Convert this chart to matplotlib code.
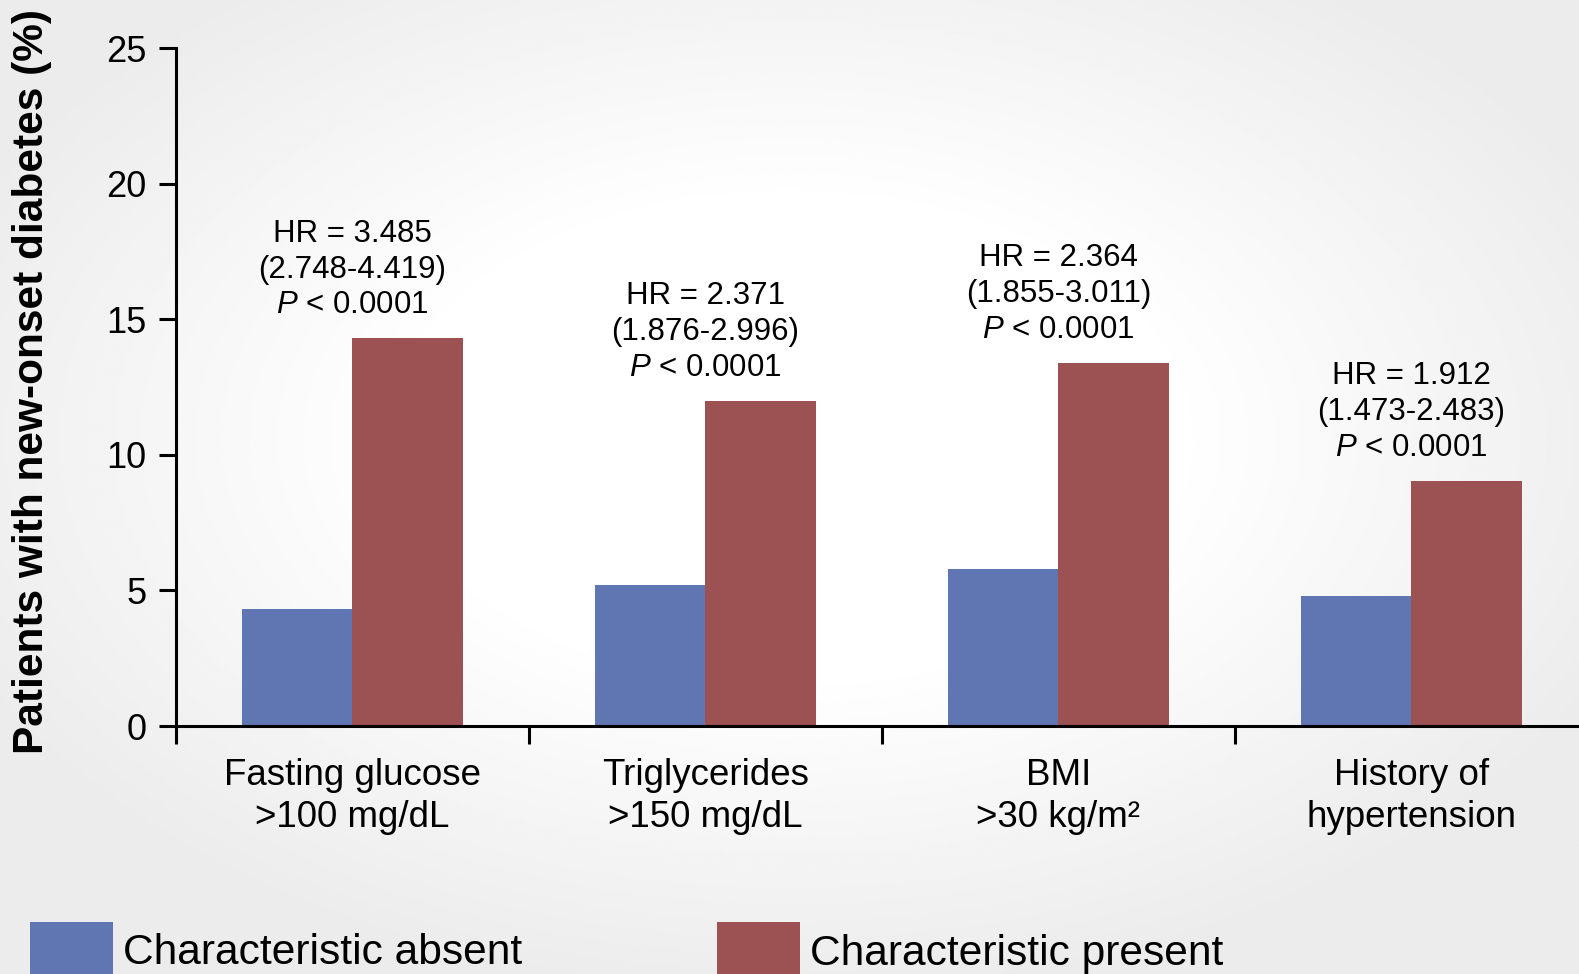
import numpy as np
import matplotlib.pyplot as plt

plt.rcParams['font.family'] = ['Liberation Sans', 'DejaVu Sans']
plt.rcParams['mathtext.fontset'] = 'custom'
plt.rcParams['mathtext.rm'] = 'Liberation Sans'
plt.rcParams['mathtext.it'] = 'Liberation Sans:italic'

categories = ['Fasting glucose\n>100 mg/dL', 'Triglycerides\n>150 mg/dL',
              'BMI\n>30 kg/m²', 'History of\nhypertension']
absent = [4.3, 5.2, 5.8, 4.8]
present = [14.3, 12.0, 13.4, 9.05]
hr = ['3.485', '2.371', '2.364', '1.912']
ci = ['2.748-4.419', '1.876-2.996', '1.855-3.011', '1.473-2.483']
pval = ['< 0.0001', '< 0.0001', '< 0.0001', '< 0.0001']
yticks = [0, 5, 10, 15, 20, 25]

blue = '#6076b3'
red = '#9c5253'

W, H = 1579, 974
fig = plt.figure(figsize=(W / 100, H / 100), dpi=100)

# soft radial grey background
bg = fig.add_axes([0, 0, 1, 1], zorder=-10)
yy, xx = np.mgrid[0:1:400j, 0:1:640j]
d = np.sqrt(((xx - 0.5) / 0.6) ** 2 + ((yy - 0.45) / 0.6) ** 2)
shade = 1 - 0.075 * np.clip((d - 0.4) / 0.55, 0, 1)
bg.imshow(shade, cmap='gray', vmin=0, vmax=1, aspect='auto', extent=[0, 1, 0, 1])
bg.axis('off')

ax = fig.add_axes([176 / W, 1 - 726 / H, 1 - 176 / W, (726 - 48) / H])
ax.patch.set_alpha(0)

x = np.arange(len(categories))
w = 0.314
ax.bar(x - w / 2, absent, w, color=blue, label='Characteristic absent')
ax.bar(x + w / 2, present, w, color=red, label='Characteristic present')

for i in range(len(categories)):
    txt = 'HR = %s\n(%s)\n$\\mathit{P}$ %s' % (hr[i], ci[i], pval[i])
    ax.annotate(txt, xy=(x[i], present[i]), xytext=(0, 13), textcoords='offset points',
                ha='center', va='bottom', fontsize=22.5, linespacing=1.24)

ax.set_xlim(-0.5, 3.475)
ax.set_ylim(0, 25)
ax.spines['top'].set_visible(False)
ax.spines['right'].set_visible(False)
ax.spines['left'].set_linewidth(2.2)
ax.spines['bottom'].set_linewidth(2.2)

ax.set_yticks(yticks)
ax.tick_params(axis='y', length=12.5, width=2.2, labelsize=26, pad=8.5)

ax.set_xticks([-0.5, 0.5, 1.5, 2.5])
ax.set_xticklabels([])
ax.tick_params(axis='x', which='major', length=13, width=2.2)
ax.set_xticks(x, minor=True)
ax.set_xticklabels(categories, minor=True)
ax.tick_params(axis='x', which='minor', length=0, labelsize=26.5, pad=23)
for lbl in ax.get_xticklabels(minor=True):
    lbl.set_linespacing(1.27)

fig.text(32 / W, 1 - 382 / H, 'Patients with new-onset diabetes (%)', rotation=90,
         fontsize=30.5, fontweight='bold', ha='center', va='center')

ax.legend(loc='upper left', bbox_to_anchor=(30 / W, 1 - 922 / H), bbox_transform=fig.transFigure,
          ncol=2, frameon=False, fontsize=30.6, handlelength=1.95, handleheight=1.7,
          handletextpad=0.24, columnspacing=4.58, borderpad=0, borderaxespad=0)

fig.savefig('out.png', dpi=100)
